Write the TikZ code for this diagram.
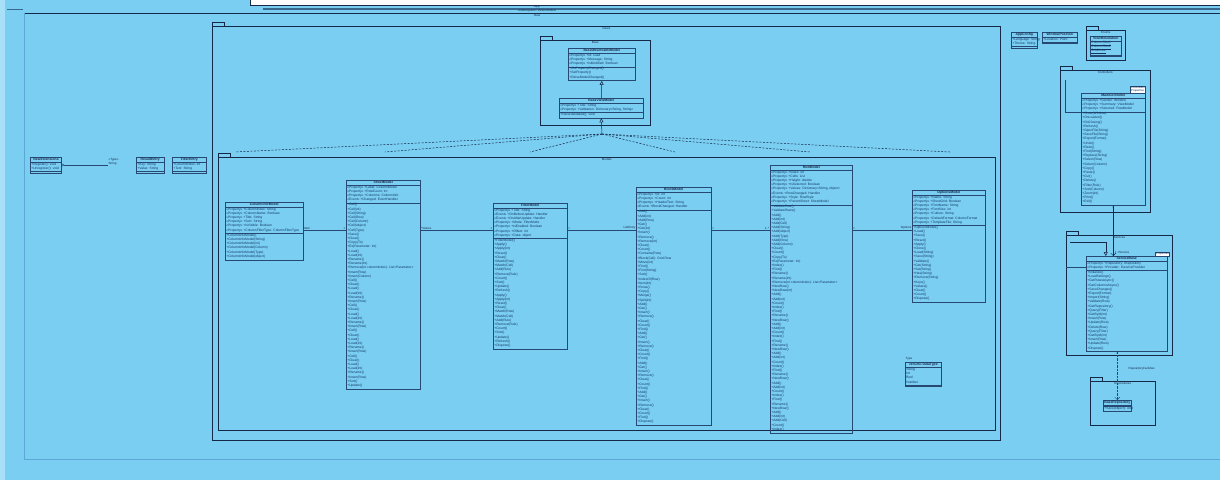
\documentclass[tikz,border=0pt]{standalone}
\usepackage{fontspec}
\setmainfont{Liberation Sans}
\usepackage{tikz}
\usetikzlibrary{arrows.meta,positioning,calc}
\definecolor{umlbg}{RGB}{122,206,242}
\definecolor{umlpale}{RGB}{168,224,248}
\definecolor{umlnavy}{RGB}{22,40,72}
\definecolor{umlline}{RGB}{38,72,115}
\definecolor{umltext}{RGB}{18,52,98}
\definecolor{umlfaint}{RGB}{92,168,212}

\newcommand{\rowpitch}{4.2}
% class box: name, north west corner, width, title, attributes, operations
\newcommand{\umlclass}[6]{%
  \def\nA{0}\def\nM{0}%
  \def\tmpA{#5}\def\tmpM{#6}%
  \ifx\tmpA\empty\else\foreach \m [count=\k] in {#5} {\xdef\nA{\k}}\fi
  \ifx\tmpM\empty\else\foreach \m [count=\k] in {#6} {\xdef\nM{\k}}\fi
  \pgfmathsetmacro\hh{(1+\nA+\nM)*\rowpitch+3}%
  \node[classbox, minimum width=#3pt, minimum height=\hh pt, anchor=north west] (#1) at (#2) {};
  \node[classtitle] (#1-t) at ([yshift={-0.5*\rowpitch-0.5}]#1.north) {#4};
  \draw[classline] ([yshift={-\rowpitch-1}]#1.north west) -- ([yshift={-\rowpitch-1}]#1.north east);
  \ifx\tmpA\empty\else
    \foreach \m [count=\i] in {#5}
      \node[member] (#1-a\i) at ([xshift=1.2pt, yshift={-(\i+0.5)*\rowpitch-1}]#1.north west) {\m};
  \fi
  \draw[classline] ([yshift={-(1+\nA)*\rowpitch-2}]#1.north west) -- ([yshift={-(1+\nA)*\rowpitch-2}]#1.north east);
  \ifx\tmpM\empty\else
    \foreach \m [count=\i] in {#6}
      \node[member] (#1-m\i) at ([xshift=1.2pt, yshift={-(\nA+\i+0.5)*\rowpitch-2}]#1.north west) {\m};
  \fi
}
% package frame: name, north west corner, width, height, label
\newcommand{\umlpackage}[5]{%
  \node[pkgbox, minimum width=#3pt, minimum height=#4pt, anchor=north west] (#1) at (#2) {};
  \node[pkgtab, anchor=south west] (#1-tab) at (#1.north west) {};
  \node[pkglabel, anchor=north] (#1-l) at (#1.north) {#5};
}

\begin{document}
\begin{tikzpicture}[x=1pt, y=-1pt,
    classbox/.style={draw=umlline, line width=0.5pt, inner sep=0pt},
    classline/.style={draw=umlline, line width=0.4pt},
    classtitle/.style={inner sep=0pt, text=umlnavy, font=\fontsize{3.4}{4}\selectfont\bfseries},
    member/.style={anchor=west, inner sep=0pt, text=umltext, font=\fontsize{3.3}{3.8}\selectfont},
    pkgbox/.style={draw=umlnavy, line width=0.6pt, inner sep=0pt},
    pkgtab/.style={draw=umlnavy, line width=0.5pt, inner sep=0pt, minimum width=12pt, minimum height=4pt},
    pkglabel/.style={inner sep=1pt, text=umlnavy, font=\fontsize{3}{3.6}\selectfont},
    rolelabel/.style={inner sep=0.5pt, text=umlnavy, font=\fontsize{3}{3.6}\selectfont},
    tagbox/.style={fill=white, draw=umlline, line width=0.3pt, inner sep=0.6pt, align=left, text=umlnavy, font=\fontsize{2.8}{3.2}\selectfont},
    assoc/.style={draw=umlline, line width=0.3pt},
    gen/.style={draw=umlnavy, line width=0.5pt, -{Triangle[open, length=4pt, width=4pt]}},
    realize/.style={draw=umlnavy, line width=0.5pt, dash pattern=on 2pt off 1.5pt},
    nav/.style={draw=umlnavy, line width=0.4pt, -{Straight Barb[length=2.5pt]}},
    dep/.style={draw=umlline, line width=0.4pt, densely dotted, -{Straight Barb[length=2.5pt]}}]
    \useasboundingbox (0,0) rectangle (1220,480);
    % Canvas and outer frame
    \fill[umlbg] (0,0) rectangle (1220,480);
    \fill[umlpale] (0,0) rectangle (5,480);
    \fill[white] (250,0) rectangle (1220,5);
    \draw[umlnavy, line width=0.6pt] (250,0) -- (250,5) -- (1220,5);
    \draw[umlfaint!50!umlnavy, line width=1.2pt] (263,9) -- (1220,9);
    \draw[umlfaint!50!umlnavy, line width=1pt] (7,9) -- (23,9);
    \draw[umlnavy, line width=0.6pt] (24,13) -- (1220,13);
    \draw[umlfaint, line width=0.5pt] (24,13) -- (24,459) -- (1220,459);
    \node[pkglabel] (hdr1) at (537,7) {App};
    \node[pkglabel] (hdr2) at (537,11) {«namespace» Views.Models};
    \node[pkglabel] (hdr3) at (537,15.5) {View};

    % Packages
    \umlpackage{views}{212,26}{788}{414}{Views}
    \umlpackage{models}{218,157}{777}{273}{Models}
    \umlpackage{base}{540,40}{110}{85}{Base}
    \umlpackage{enums}{1086,30}{39}{30}{Enums}
    \umlpackage{ctrls}{1060,70}{90}{142}{Controllers}
    \umlpackage{servs}{1066,235}{106}{120}{Services}
    \umlpackage{repos}{1090,381}{65}{44}{Repositories}

    % Left helper classes
    \umlclass{vext}{30,157}{31}{ViewExtensions}{+Register(): void, +Unregister(): void}{}
    \umlclass{rentry}{136,157}{28}{ResultEntry}{+Key: String, +Value: String}{}
    \umlclass{fentry}{172,157}{34}{FilterEntry}{+ColumnIndex: int, +Text: String}{}
    \node[rolelabel, align=left, anchor=west] (vtype) at (108,162) {«Type»\\String};
    \draw[assoc, {Circle[open, length=2.5pt]}-] (vext.east) -- (vtype.west |- vext.east);

    % Base classes
    \umlclass{bom}{568,48}{67}{BaseObservableModel}{«Property» +Id: Guid, «Property» +Message: String, «Property» +IsModified: Boolean}{+OnPropertyChanged(), +SetProperty(), +RaiseModelChanged()}
    \umlclass{bvm}{559,98}{84}{BaseViewModel}{«Property» +Title: String, {«Property» +Validation: Dictionary<String, String>}}{+RaiseValidated(): void}
    \draw[gen] (bvm.north) -- (bom.south);
    \coordinate (fan) at (602,134);
    \draw[gen] (fan) -- (bvm.south);
    \foreach \fx [count=\j] in {235,385,530,675,810,950} {
        \coordinate (fe\j) at (\fx,152);
        \draw[realize] (fan) -- (fe\j);
    }

    % Model classes
    \umlclass{c1}{225,202}{78}{ColumnInfoModel}{«Property» +ColumnIndex: String, «Property» +ColumnName: Boolean, «Property» +Title: String, «Property» +Sort: String, «Property» +IsVisible: Boolean, «Property» +ColumnFilterType: ColumnFilterType}{+ColumnInfoModel(), +ColumnInfoModel(String), +ColumnInfoModel(int), +ColumnInfoModel(Column), +ColumnInfoModel(Type), +ColumnInfoModel(object)}
    \umlclass{c2}{346,180}{74}{SheetModel}{«Property» +Label: ColumnModel, «Property» +RowCount: int, «Property» +Columns: ColumnInfo, «Event» +Changed: EventHandler}{+Cell(), +Cell(int), +Cell(String), +Cell(Row), +Cell(Column), +Cell(object), +Cell(Type), +Save(), +Clear(), +Copy(To), +Ex(Parameter: int), +Load(), +Load(int), +Rename(), +Rename(int), +Remove(int columnIndex): List<Parameter>, +Insert(Row), +Insert(Column), +Cell(), +Clear(), +Load(), +Load(int), +Rename(), +Insert(Row), +Cell(), +Clear(), +Load(), +Load(int), +Rename(), +Insert(Row), +Cell(), +Clear(), +Load(), +Load(int), +Rename(), +Insert(Row), +Cell(), +Clear(), +Load(), +Load(int), +Rename(), +Insert(Row), +Sort(), +Update()}
    \umlclass{c3}{493,203}{74}{FilterModel}{«Property» +Title: String, «Event» +OnBeforeUpdate: Handler, «Event» +OnAfterUpdate: Handler, «Property» +Mode: FilterMode, «Property» +IsEnabled: Boolean, «Property» +Offset: int, «Property» +Data: object}{+FilterModel(), +Apply(), +Apply(int), +Reset(), +Clear(), +Match(Row), +Match(Cell), +Add(Rule), +Remove(Rule), +Count(), +Sort(), +Update(), +Refresh(), +Apply(), +Apply(int), +Reset(), +Clear(), +Match(Row), +Match(Cell), +Add(Rule), +Remove(Rule), +Count(), +Sort(), +Update(), +Refresh(), +Dispose()}
    \umlclass{c4}{636,187}{75}{BlockModel}{«Property» +Id: int, «Property» +Count: int, «Property» +HeaderText: String, «Event» +BlockChanged: Handler}{+Add(), +Add(int), +Add(Row), +Get(), +Get(int), +Insert(), +Remove(), +Remove(int), +Clear(), +Count(), +Contains(Row), +Block(Cell): Grid.Row, +Move(int), +Find(), +Find(String), +Sort(), +IndexOf(Row), +Item(int), +Rows(), +Copy(), +Merge(), +Split(int), +Add(), +Get(), +Insert(), +Remove(), +Clear(), +Count(), +Find(), +Add(), +Get(), +Insert(), +Remove(), +Clear(), +Count(), +Find(), +Add(), +Get(), +Insert(), +Remove(), +Clear(), +Count(), +Find(), +Add(), +Get(), +Insert(), +Remove(), +Clear(), +Count(), +Find(), +Dispose()}
    \umlclass{c5}{770,165}{82}{RowModel}{«Property» +Index: int, «Property» +Cells: List, «Property» +Height: double, «Property» +IsSelected: Boolean, {«Property» +Values: Dictionary<String, object>}, «Event» +RowChanged: Handler, «Property» +Style: RowStyle, «Property» +ParentSheet: SheetModel}{+ValidateRow(), +ValidateRows(), +Add(), +Add(int), +Add(Cell), +Add(String), +Add(object), +Add(Type), +Add(Row), +Add(Column), +Clear(), +Count(), +Copy(To), +Ex(Parameter: int), +Index(), +Find(), +Rename(), +Rename(int), +Remove(int columnIndex): List<Parameter>, +NewRow(), +NewRow(int), +Add(), +Add(int), +Count(), +Index(), +Find(), +Rename(), +NewRow(), +Add(), +Add(int), +Count(), +Index(), +Find(), +Rename(), +NewRow(), +Add(), +Add(int), +Count(), +Index(), +Find(), +Rename(), +NewRow(), +Add(), +Add(int), +Count(), +Index(), +Find(), +Rename(), +NewRow(), +Add(), +Add(int), +Add(Cell), +Count(), +Index()}
    \umlclass{c6}{912,190}{73}{OptionsModel}{«Property» +Name: String, «Property» +ShowGrid: Boolean, «Property» +FontName: String, «Property» +FontSize: int, «Property» +Culture: String, «Property» +DefaultFormat: ColumnFormat, «Property» +TemplateFile: String}{+OptionsModel(), +Load(), +Save(), +Reset(), +Apply(), +Clone(), +Load(String), +Save(String), +Validate(), +Get(String), +Set(String), +Has(String), +Remove(String), +Keys(), +Values(), +Clear(), +Count(), +Dispose()}
    \node[rolelabel, anchor=south west] (typelbl) at (905,361) {Type};
    \umlclass{dtype}{905,362}{36}{«enum» DataType}{String, Int, Bool, Number}{}

    % Associations between model classes
    \coordinate (arow) at (0,230);
    \foreach \a/\b/\la/\lb [count=\j] in {c1/c2/Item/×, c2/c3/*Values/×, c3/c4/×/ListEntry, c4/c5/×/1..*, c5/c6/×/Options} {
        \draw[assoc] (\a.east |- arow) -- (\b.west |- arow);
        \node[rolelabel, anchor=south west] (ra\j) at (\a.east |- arow) {\la};
        \node[rolelabel, anchor=south east] (rb\j) at (\b.west |- arow) {\lb};
    }

    % Right side
    \umlclass{appcfg}{1011,32}{26}{AppConfig}{+Language: String, +Theme: String}{}
    \umlclass{winpos}{1042,32}{35}{WindowPosition}{+Location: Point}{}
    \umlclass{viewres}{1090,36}{31}{ViewResolution}{\underline{ColumnSize1}, \underline{ColumnSize2}, \underline{GridLines}}{}
    \umlclass{ctl}{1081,93}{64}{MainController}{«Property» +Sender: Window, «Property» +Summary: ViewModel, «Property» +Selected: RowModel}{+Show(Window), +OnLoaded(), +OnClosing(), +Refresh(), +OpenFile(String), +SaveFile(String), +Export(Format), +Undo(), +Redo(), +Find(String), +Replace(String), +Select(Row), +Select(Column), +Copy(), +Paste(), +Cut(), +Delete(), +Filter(Rule), +Sort(Column), +Zoom(int), +Print(), +Exit()}
    \node[tagbox, anchor=south east] (ctl-tag) at (ctl.north east) {Controllers\\Properties};
    \umlclass{svc}{1086,256}{81}{ServiceBase}{«Property» +Repository: IRepository, «Property» +Provider: IServiceProvider}{+Initialize(), +LoadSettings(), +GetRowsAsync(), +GetColumnsAsync(), +SaveChanges(), +Export(Format), +Import(String), +Validate(Row), +GetRepository(), +Query(Filter), +GetById(int), +Insert(Row), +Update(Row), +Delete(Row), +Query(Filter), +GetById(int), +Insert(Row), +Update(Row), +Dispose()}
    \node[tagbox, anchor=south east] (svc-tag) at ([xshift=2pt]svc.north east) {Properties};
    \umlclass{repo}{1103,400}{28}{BaseRepository}{}{+Save(object): void}

    % Connectors on the right
    \coordinate (cin) at (1065,80);
    \draw[assoc] (cin) |- ([yshift=-19pt]ctl.north west);
    \draw[nav] (ctl.south) -- (ctl.south |- svc.north);
    \node[rolelabel, anchor=north] (ctl-x) at (ctl.south) {×};
    \node[rolelabel, anchor=south west] (svc-role) at ([xshift=1pt, yshift=2pt]ctl.south |- svc.north) {1 +Service};
    \coordinate (sin1) at (1070,242);
    \draw[gen] (sin1) -| ([xshift=-21pt]svc.north);
    \coordinate (sin2) at (1066,267);
    \draw[assoc] (sin2) -- (sin2 -| svc.west);
    \draw[dep] (repo.north |- svc.south) -- (repo.north);
    \node[rolelabel, anchor=north] (svc-x) at (repo.north |- svc.south) {×};
    \node[rolelabel, anchor=west] (replbl) at (1128,369) {RepositoryFacilities};
\end{tikzpicture}
\end{document}
